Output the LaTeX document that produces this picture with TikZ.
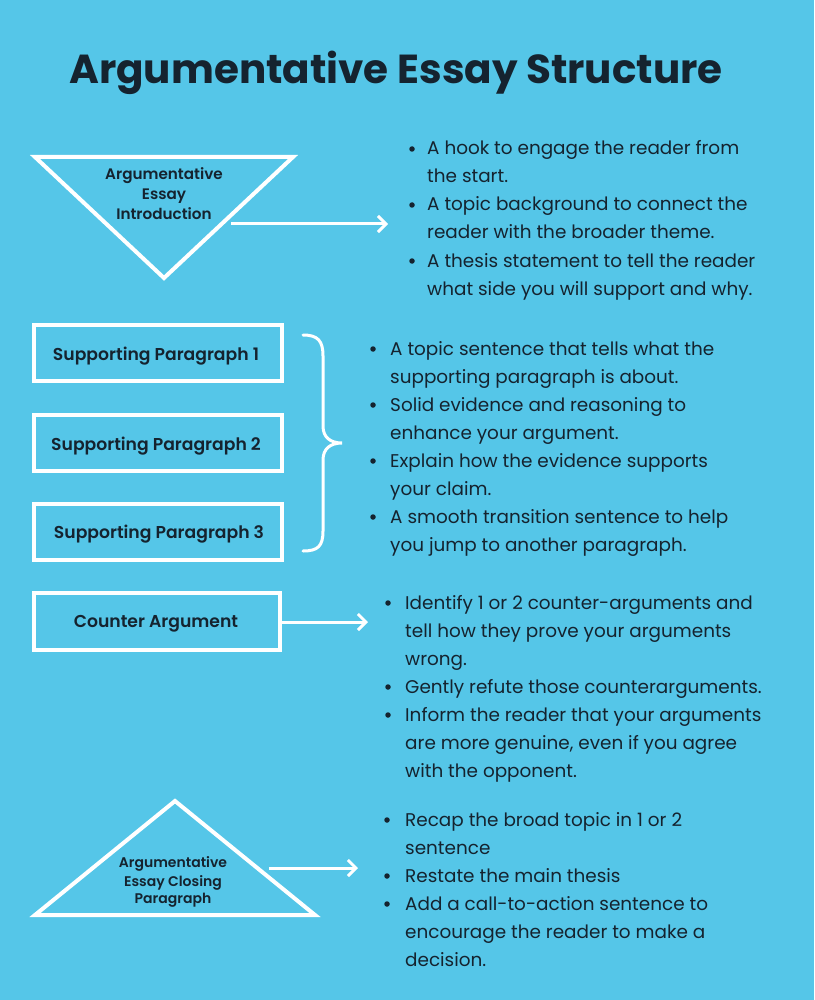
\documentclass[tikz,border=0pt]{standalone}
\usepackage{fontspec}
\setmainfont{Poppins}[BoldFont={Poppins SemiBold}]
\newfontfamily\titlefont{Poppins}[UprightFont={Poppins Bold}]
\usetikzlibrary{arrows.meta}
\definecolor{bg}{HTML}{55C6E8}
\definecolor{ink}{HTML}{15232F}
\begin{document}
\begin{tikzpicture}[x=1pt,y=-1pt,
  shapeline/.style={draw=white,line width=4pt,line join=miter},
  conn/.style={white,line width=3pt,-{Straight Barb[length=8pt,width=16pt,line width=3pt]}},
  body/.style={anchor=base west,inner sep=0,font=\fontsize{18.4}{20}\selectfont,text=ink},
  dot/.style={circle,fill=ink,inner sep=0,minimum size=5.5pt},
  lbl/.style={anchor=base,inner sep=0,font=\fontsize{17.2}{20}\selectfont\bfseries,text=ink},
  tri/.style={anchor=base,inner sep=0,font=\fontsize{15.2}{18}\selectfont\bfseries,text=ink},
  trib/.style={anchor=base,inner sep=0,font=\fontsize{14}{16}\selectfont\bfseries,text=ink},
  box/.style={draw=white,line width=4pt,inner sep=0}
]
\fill[bg] (0,0) rectangle (814,1000);
\useasboundingbox (0,0) rectangle (814,1000);

% title
\node[anchor=base,inner sep=0,font=\fontsize{40.5}{46}\titlefont,text=ink] (title) at (396,84) {Argumentative Essay Structure};

% introduction triangle
\draw[shapeline] (35,157) -- (293,157) -- (164,278) -- cycle;
\node[tri] (i1) at (164,180) {Argumentative};
\node[tri] (i2) at (164,200) {Essay};
\node[tri] (i3) at (164,219) {Introduction};
\coordinate (a1s) at (231,224);
\coordinate (a1e) at (388,224);
\draw[conn] (a1s) -- (a1e);

\node[dot] (d11) at (412,149) {};
\node[body] (t11) at (427,155) {A hook to engage the reader from};
\node[body] (t12) at (427,183) {the start.};
\node[dot] (d12) at (412,205) {};
\node[body] (t13) at (427,211) {A topic background to connect the};
\node[body] (t14) at (427,239) {reader with the broader theme.};
\node[dot] (d13) at (412,261) {};
\node[body] (t15) at (427,267) {A thesis statement to tell the reader};
\node[body] (t16) at (427,295) {what side you will support and why.};

% supporting paragraphs
\node[box,minimum width=248pt,minimum height=56pt] (sp1) at (158,353) {};
\node[lbl] (sp1t) at (156,360) {Supporting Paragraph 1};
\node[box,minimum width=248pt,minimum height=56pt] (sp2) at (158,443) {};
\node[lbl] (sp2t) at (156,450) {Supporting Paragraph 2};
\node[box,minimum width=248pt,minimum height=56pt] (sp3) at (158,532) {};
\node[lbl] (sp3t) at (159,538) {Supporting Paragraph 3};

\draw[white,line width=3pt,line cap=round]
  (303,335) .. controls (318,335) and (323,341) .. (323,356)
  -- (323,426) .. controls (323,437) and (330,443) .. (342,443)
  .. controls (330,443) and (323,449) .. (323,460)
  -- (323,531) .. controls (323,546) and (318,551) .. (303,551);

\node[dot] (d21) at (373,349) {};
\node[body] (t21) at (390,355) {A topic sentence that tells what the};
\node[body] (t22) at (390,383) {supporting paragraph is about.};
\node[dot] (d22) at (373,405) {};
\node[body] (t23) at (390,411) {Solid evidence and reasoning to};
\node[body] (t24) at (390,439) {enhance your argument.};
\node[dot] (d23) at (373,461) {};
\node[body] (t25) at (390,467) {Explain how the evidence supports};
\node[body] (t26) at (390,495) {your claim.};
\node[dot] (d24) at (373,517) {};
\node[body] (t27) at (390,523) {A smooth transition sentence to help};
\node[body] (t28) at (390,551) {you jump to another paragraph.};

% counter argument
\node[box,minimum width=246pt,minimum height=57pt] (ca) at (157,621.5) {};
\node[lbl] (cat) at (156,627) {Counter Argument};
\coordinate (a2e) at (368,622);
\draw[conn] (ca.east |- a2e) -- (a2e);

\node[dot] (d31) at (388,603) {};
\node[body] (t31) at (405,609) {Identify 1 or 2 counter-arguments and};
\node[body] (t32) at (405,637) {tell how they prove your arguments};
\node[body] (t33) at (405,665) {wrong.};
\node[dot] (d32) at (388,687) {};
\node[body] (t34) at (405,693) {Gently refute those counterarguments.};
\node[dot] (d33) at (388,715) {};
\node[body] (t35) at (405,721) {Inform the reader that your arguments};
\node[body] (t36) at (405,749) {are more genuine, even if you agree};
\node[body] (t37) at (405,777) {with the opponent.};

% closing triangle
\draw[shapeline] (35,915) -- (175,801) -- (315,915) -- cycle;
\node[trib] (c1) at (173,867) {Argumentative};
\node[trib] (c2) at (173,886) {Essay Closing};
\node[trib] (c3) at (173,903) {Paragraph};
\coordinate (a3s) at (269,868);
\coordinate (a3e) at (358,868);
\draw[conn] (a3s) -- (a3e);

\node[dot] (d41) at (387,820) {};
\node[body] (t41) at (405,826) {Recap the broad topic in 1 or 2};
\node[body] (t42) at (405,854) {sentence};
\node[dot] (d42) at (387,876) {};
\node[body] (t43) at (405,882) {Restate the main thesis};
\node[dot] (d43) at (387,904) {};
\node[body] (t44) at (405,910) {Add a call-to-action sentence to};
\node[body] (t45) at (405,938) {encourage the reader to make a};
\node[body] (t46) at (405,966) {decision.};
\end{tikzpicture}
\end{document}
